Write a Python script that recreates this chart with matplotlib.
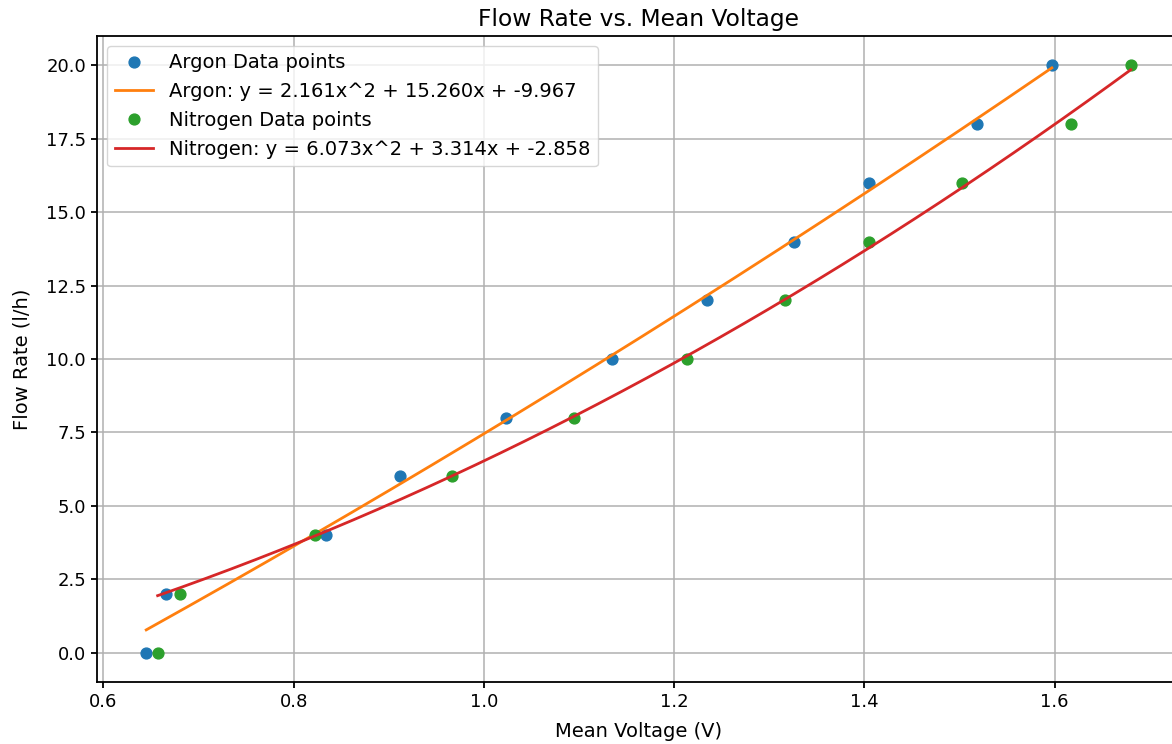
import matplotlib
matplotlib.use("Agg")
import matplotlib.pyplot as plt
import numpy as np

# flow rate steps (l/h)
flow = [0, 2, 4, 6, 8, 10, 12, 14, 16, 18, 20]

# mean voltage readings (V)
argon_v = [0.645, 0.666, 0.834, 0.912, 1.023, 1.135, 1.235, 1.326, 1.405, 1.518, 1.597]
nitrogen_v = [0.657, 0.680, 0.822, 0.966, 1.095, 1.214, 1.317, 1.405, 1.503, 1.617, 1.680]

# quadratic fit coefficients (a, b, c) as shown in the legend
argon_fit = [2.161, 15.260, -9.967]
nitrogen_fit = [6.073, 3.314, -2.858]

fig = plt.figure(figsize=(11.72, 7.44), dpi=100)
ax = fig.add_axes([97 / 1172, 62 / 744, 1083 / 1172, 646 / 744])

def fit_label(name, c):
    return f"{name}: y = {c[0]:.3f}x^2 + {c[1]:.3f}x + {c[2]:.3f}"

ax.plot(argon_v, flow, "o", color="#1f77b4", markersize=7.8, label="Argon Data points")
xa = np.linspace(min(argon_v), max(argon_v), 200)
ax.plot(xa, np.polyval(argon_fit, xa), color="#ff7f0e", linewidth=2, label=fit_label("Argon", argon_fit))

ax.plot(nitrogen_v, flow, "o", color="#2ca02c", markersize=7.8, label="Nitrogen Data points")
xn = np.linspace(min(nitrogen_v), max(nitrogen_v), 200)
ax.plot(xn, np.polyval(nitrogen_fit, xn), color="#d62728", linewidth=2, label=fit_label("Nitrogen", nitrogen_fit))

ax.set_title("Flow Rate vs. Mean Voltage", fontsize=16.8, pad=7)
ax.set_xlabel("Mean Voltage (V)", fontsize=14, labelpad=8)
ax.set_ylabel("Flow Rate (l/h)", fontsize=14, labelpad=10)
ax.tick_params(labelsize=13, width=1.3, length=4.5)
for s in ax.spines.values():
    s.set_linewidth(1.3)
ax.grid(True, linewidth=1.1)
ax.legend(loc="upper left", fontsize=14)

fig.savefig("out.png", dpi=100)
